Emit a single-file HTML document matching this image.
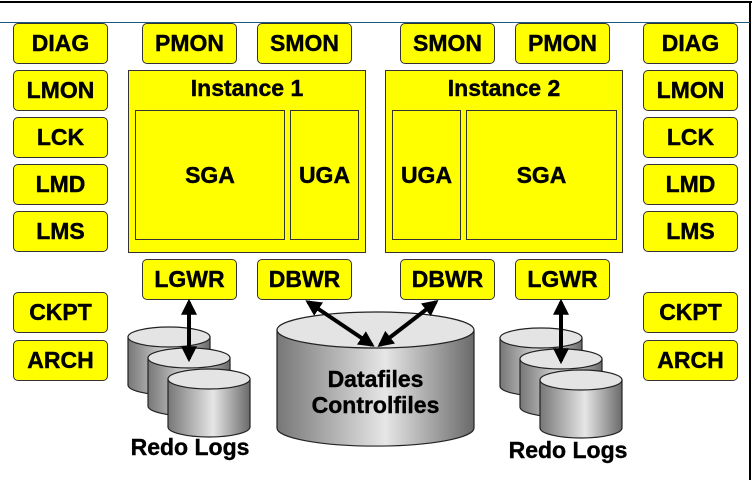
<!DOCTYPE html>
<html><head><style>
body{margin:0;width:754px;height:480px;background:#fff;overflow:hidden;position:relative;font-family:"Liberation Sans",Arial,sans-serif;font-weight:bold}
.b{position:absolute;background:#ff0;border:1.5px solid #333;border-radius:5px;box-sizing:border-box;width:95px;height:41px;display:flex;align-items:center;justify-content:center;font-size:23px;color:#000;-webkit-text-stroke:0.4px #000}
.r{position:absolute;background:#ff0;border:1.5px solid #333;box-sizing:border-box;-webkit-text-stroke:0.4px #000}
.t{position:absolute;font-size:23px;text-align:center;-webkit-text-stroke:0.4px #000}
svg{position:absolute;left:0;top:0}
</style></head><body>
<div style="position:absolute;left:0;top:1px;width:752px;height:2px;background:#000"></div>
<div style="position:absolute;left:749px;top:1px;width:2px;height:479px;background:#000"></div>
<div style="position:absolute;left:0;top:22px;width:750px;height:1px;background:#1a5a7a"></div>

<div class="b" style="left:13px;top:23px">DIAG</div>
<div class="b" style="left:13px;top:70px">LMON</div>
<div class="b" style="left:13px;top:117px">LCK</div>
<div class="b" style="left:13px;top:164px">LMD</div>
<div class="b" style="left:13px;top:211px">LMS</div>
<div class="b" style="left:13px;top:292px">CKPT</div>
<div class="b" style="left:13px;top:340px">ARCH</div>
<div class="b" style="left:643px;top:23px">DIAG</div>
<div class="b" style="left:643px;top:70px">LMON</div>
<div class="b" style="left:643px;top:117px">LCK</div>
<div class="b" style="left:643px;top:164px">LMD</div>
<div class="b" style="left:643px;top:211px">LMS</div>
<div class="b" style="left:643px;top:292px">CKPT</div>
<div class="b" style="left:643px;top:340px">ARCH</div>

<div class="b" style="left:142px;top:23px">PMON</div>
<div class="b" style="left:257px;top:23px">SMON</div>
<div class="b" style="left:400px;top:23px">SMON</div>
<div class="b" style="left:515px;top:23px">PMON</div>

<div class="r" style="left:128px;top:70px;width:238px;height:183px"></div>
<div class="t" style="left:128px;top:75px;width:238px">Instance 1</div>
<div class="r" style="left:135px;top:110px;width:150px;height:130px;display:flex;align-items:center;justify-content:center;font-size:23px">SGA</div>
<div class="r" style="left:290px;top:110px;width:69px;height:130px;display:flex;align-items:center;justify-content:center;font-size:23px">UGA</div>

<div class="r" style="left:385px;top:70px;width:238px;height:183px"></div>
<div class="t" style="left:385px;top:75px;width:238px">Instance 2</div>
<div class="r" style="left:392px;top:110px;width:69px;height:130px;display:flex;align-items:center;justify-content:center;font-size:23px">UGA</div>
<div class="r" style="left:466px;top:110px;width:151px;height:130px;display:flex;align-items:center;justify-content:center;font-size:23px">SGA</div>

<div class="b" style="left:142px;top:259px">LGWR</div>
<div class="b" style="left:257px;top:259px">DBWR</div>
<div class="b" style="left:400px;top:259px">DBWR</div>
<div class="b" style="left:515px;top:259px">LGWR</div>

<svg width="754" height="480">
<defs>
<linearGradient id="g" x1="0" x2="1" y1="0" y2="0">
<stop offset="0" stop-color="#777"/><stop offset="0.55" stop-color="#e6e6e6"/><stop offset="1" stop-color="#6a6a6a"/>
</linearGradient>
<marker id="a" viewBox="0 0 10 10" refX="8" refY="5" markerWidth="4" markerHeight="4" orient="auto-start-reverse"><path d="M0,0L10,5L0,10z" fill="#000"/></marker>
</defs>
<g stroke="#222" stroke-width="1.2">
<path d="M277,330 v98 a98,18 0 0 0 197,0 v-98z" fill="url(#g)"/>
<ellipse cx="375.5" cy="330" rx="98.5" ry="18" fill="#e4e4e4"/>
<g id="c">
<path d="M128,337 v48 a41,10 0 0 0 82,0 v-48z" fill="url(#g)"/><ellipse cx="169" cy="337" rx="41" ry="10" fill="#e4e4e4"/>
<path d="M148,358 v48 a41,10 0 0 0 82,0 v-48z" fill="url(#g)"/><ellipse cx="189" cy="358" rx="41" ry="10" fill="#e4e4e4"/>
<path d="M168,379 v48 a41,10 0 0 0 82,0 v-48z" fill="url(#g)"/><ellipse cx="209" cy="379" rx="41" ry="10" fill="#e4e4e4"/>
</g>
<use href="#c" x="372" y="1"/>
</g>
<g stroke="#000" stroke-width="4" marker-start="url(#a)" marker-end="url(#a)">
<line x1="189" y1="302" x2="189" y2="359"/>
<line x1="561" y1="302" x2="561" y2="361"/>
<line x1="308" y1="302" x2="372" y2="345"/>
<line x1="436" y1="302" x2="380" y2="345"/>
</g>
</svg>
<div class="t" style="left:257px;top:366px;width:237px;line-height:26px">Datafiles<br>Controlfiles</div>
<div class="t" style="left:100px;top:434px;width:180px">Redo Logs</div>
<div class="t" style="left:478px;top:437px;width:180px">Redo Logs</div>
</body></html>
